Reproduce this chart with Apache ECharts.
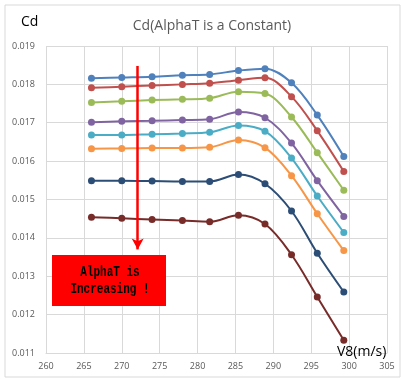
<!DOCTYPE html>
<html><head><meta charset="utf-8">
<script src="https://cdn.jsdelivr.net/npm/echarts@6/dist/echarts.min.js"></script>
<style>html,body{margin:0;padding:0;background:#fff}#c{width:402px;height:379px}</style>
</head><body><div id="c"></div>
<script>
const speeds = [266, 270, 274, 278, 281.6, 285.4, 288.9, 292.4, 295.8, 299.3];
const seriesNames = ['AlphaT1','AlphaT2','AlphaT3','AlphaT4','AlphaT5','AlphaT6','AlphaT7','AlphaT8'];
const cd1 = [0.01816, 0.01818, 0.01820, 0.01824, 0.01826, 0.01836, 0.01841, 0.01804, 0.01720, 0.01612];
const cd2 = [0.01791, 0.01794, 0.01797, 0.01800, 0.01803, 0.01811, 0.01817, 0.01768, 0.01679, 0.01573];
const cd3 = [0.01753, 0.01756, 0.01759, 0.01761, 0.01764, 0.01781, 0.01776, 0.01715, 0.01622, 0.01524];
const cd4 = [0.01701, 0.01704, 0.01705, 0.01707, 0.01709, 0.01728, 0.01713, 0.01647, 0.01549, 0.01456];
const cd5 = [0.01668, 0.01668, 0.01670, 0.01672, 0.01675, 0.01693, 0.01678, 0.01608, 0.01509, 0.01414];
const cd6 = [0.01632, 0.01633, 0.01634, 0.01634, 0.01636, 0.01655, 0.01635, 0.01562, 0.01463, 0.01367];
const cd7 = [0.01549, 0.01549, 0.01548, 0.01547, 0.01547, 0.01565, 0.01541, 0.01470, 0.01360, 0.01259];
const cd8 = [0.01454, 0.01451, 0.01448, 0.01445, 0.01442, 0.01459, 0.01436, 0.01356, 0.01246, 0.01133];
const allCd = [cd1, cd2, cd3, cd4, cd5, cd6, cd7, cd8];
const colors = ['#4F81BD','#C0504D','#9BBB59','#8064A2','#4BACC6','#F79646','#2C4D75','#772C2A'];
const xTicks = [260, 305, 5];
const yTicks = [0.011, 0.019, 0.001];
const arrowX = 272.1, arrowFrom = 0.01848, arrowTo = 0.01370;

const chart = echarts.init(document.getElementById('c'));
const series = allCd.map((vals, i) => ({
  name: seriesNames[i], type: 'line', smooth: 0.35,
  data: vals.map((v, j) => [speeds[j], v]),
  symbol: 'circle', symbolSize: 7,
  lineStyle: { color: colors[i], width: 2 },
  itemStyle: { color: colors[i] },
  z: 3
}));
series.push({
  type: 'line', data: [], silent: true,
  markLine: {
    silent: true, symbol: ['none', 'arrow'], symbolSize: [9, 11],
    label: { show: false },
    lineStyle: { color: '#ff0000', width: 2.5, type: 'solid' },
    data: [[{ coord: [arrowX, arrowFrom] }, { coord: [arrowX, arrowTo] }]]
  }, z: 5
});
chart.setOption({
  animation: false,
  grid: { left: 46, right: 15, top: 46, bottom: 26 },
  title: { text: 'Cd(AlphaT is a Constant)', left: 207, textAlign: 'center', top: 14,
    textStyle: { color: '#595959', fontSize: 14, fontWeight: 'normal', fontFamily: 'Open Sans' } },
  xAxis: { type: 'value', min: xTicks[0], max: xTicks[1], interval: xTicks[2],
    axisLine: { lineStyle: { color: '#d9d9d9' } }, axisTick: { show: false },
    axisLabel: { color: '#595959', fontSize: 9, margin: 9, fontFamily: 'Open Sans' },
    splitLine: { show: true, lineStyle: { color: '#d9d9d9' } } },
  yAxis: { type: 'value', min: yTicks[0], max: yTicks[1], interval: yTicks[2],
    axisLine: { show: false }, axisTick: { show: false },
    axisLabel: { color: '#595959', fontSize: 9, margin: 11, fontFamily: 'Open Sans',
      formatter: v => v.toFixed(3) },
    splitLine: { show: true, lineStyle: { color: '#d9d9d9' } } },
  series: series,
  graphic: [
    { type: 'rect', shape: { x: 5, y: 5, width: 395, height: 372 }, style: { fill: 'none', stroke: '#d9d9d9', lineWidth: 1 }, z: 0 },
    { type: 'text', left: 21, top: 15, style: { text: 'Cd', fill: '#000', font: '14px "Open Sans"' } },
    { type: 'text', left: 337, top: 345, style: { text: 'V8(m/s)', fill: '#000', font: '14px "Open Sans"' }, z: 10 },
    { type: 'rect', shape: { x: 52, y: 255, width: 114, height: 51 }, style: { fill: '#ff0000' }, z: 10 },
    { type: 'text', x: 110, y: 281, scaleY: 1.3, style: { text: 'AlphaT is\nIncreasing !', fill: '#000', font: 'bold 11px "Liberation Mono"', align: 'center', verticalAlign: 'middle', lineHeight: 12.5 }, z: 11 }
  ]
});
</script></body></html>
